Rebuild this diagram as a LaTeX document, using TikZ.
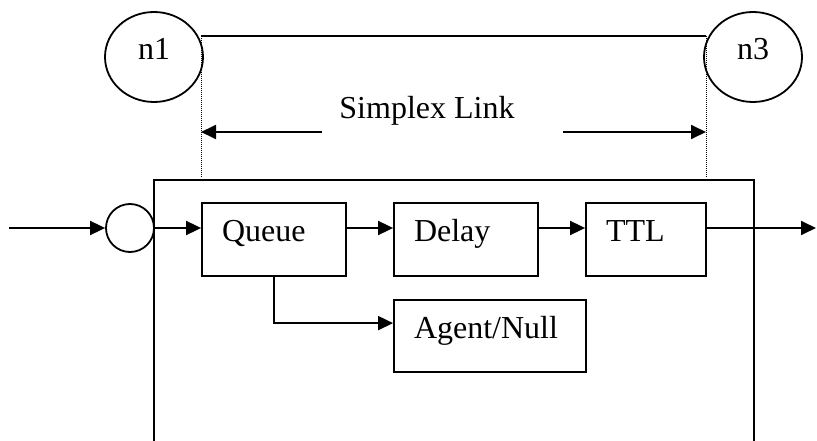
\documentclass[tikz,border=0pt]{standalone}
\usepackage{fontspec}
\setmainfont{Liberation Serif}
\usetikzlibrary{arrows.meta,shapes.geometric}
\begin{document}
\begin{tikzpicture}[x=1pt,y=-1pt,line width=1.8pt,
    every node/.style={font=\fontsize{32}{38}\selectfont,text height=0.7em,text depth=0.25em},
    blk/.style={draw,rectangle,minimum height=73pt,inner xsep=20pt,inner ysep=0pt,align=left,text width=#1},
    endpt/.style={draw,ellipse,inner sep=0pt,minimum width=98pt,minimum height=90pt},
    link/.style={-{Triangle[length=15pt,width=14pt]}},
    guide/.style={line width=0.9pt,dash pattern=on 1pt off 1pt}]
  \useasboundingbox (0,0) rectangle (817,441);
  \draw
    (154,57) node[endpt] (n1){n1}
    (753,57) node[endpt] (n3){n3}
    (427,116) node (label){Simplex Link}
    (130,228) node[draw,circle,minimum size=48pt,inner sep=0pt] (join){}
    (274,239.5) node[blk=104pt] (queue){Queue}
    (466,239.5) node[blk=104pt] (delay){Delay}
    (646,239.5) node[blk=80pt] (ttl){TTL}
    (490,336) node[blk=152pt,minimum height=72pt] (agent){Agent/Null};
  \coordinate (in) at (9,228);
  \coordinate (out) at (816,228);
  \coordinate (topL) at (201,36);
  \coordinate (topR) at (706,36);
  \coordinate (arrL) at (322,132);
  \coordinate (arrR) at (563,132);
  \coordinate (boxTL) at (154,180);
  \coordinate (boxTR) at (754,180);
  % link and its ends
  \draw (topL) -- (topR);
  \begin{scope}[guide]
    \draw (topL) -- (topL |- 0,177);
    \draw (topR) -- (topR |- 0,177);
  \end{scope}
  \draw[link] (arrL) -- (arrL -| topL);
  \draw[link] (arrR) -- (arrR -| topR);
  % frame
  \draw (boxTL |- 0,441) -- (boxTL) -- (boxTR) -- (boxTR |- 0,441);
  % packet path
  \begin{scope}[link]
    \draw (in) -- (join);
    \draw (join) -- (join -| queue.west);
    \draw (queue.east |- join) -- (delay.west |- join);
    \draw (delay.east |- join) -- (ttl.west |- join);
    \draw (ttl.east |- join) -- (out);
    \draw (queue.south) |- ([yshift=-24pt]agent.north west);
  \end{scope}
\end{tikzpicture}
\end{document}
